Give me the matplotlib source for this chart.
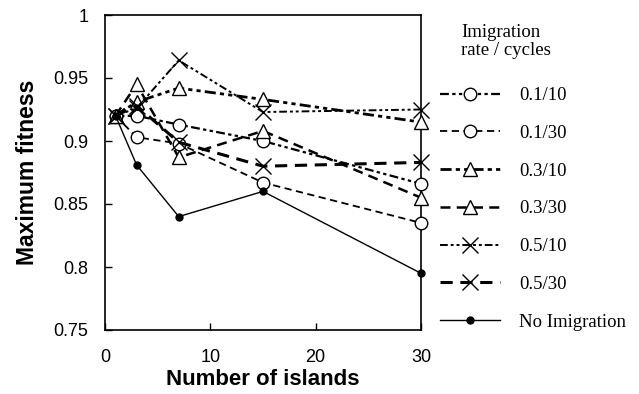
import matplotlib
matplotlib.use("Agg")
import matplotlib.pyplot as plt

islands = [1, 3, 7, 15, 30]
labels = ["0.1/10", "0.1/30", "0.3/10", "0.3/30", "0.5/10", "0.5/30", "No Imigration"]
s_01_10 = [0.920, 0.920, 0.913, 0.900, 0.866]
s_01_30 = [0.920, 0.903, 0.898, 0.867, 0.835]
s_03_10 = [0.920, 0.931, 0.942, 0.933, 0.915]
s_03_30 = [0.920, 0.945, 0.887, 0.908, 0.855]
s_05_10 = [0.920, 0.926, 0.964, 0.923, 0.925]
s_05_30 = [0.920, 0.928, 0.899, 0.880, 0.883]
s_none = [0.920, 0.881, 0.840, 0.860, 0.795]
series = [s_01_10, s_01_30, s_03_10, s_03_30, s_05_10, s_05_30, s_none]

dashdotdot = (0, (4, 1.5, 1.5, 1.5, 1.5, 1.5))
dashed = (0, (4, 2.5))
styles = [
    dict(ls=dashdotdot, lw=1.6, marker="o", ms=9),
    dict(ls=dashed, lw=1.3, marker="o", ms=9),
    dict(ls=dashdotdot, lw=2.0, marker="^", ms=10),
    dict(ls=dashed, lw=1.8, marker="^", ms=10),
    dict(ls=dashdotdot, lw=1.4, marker="x", ms=12),
    dict(ls=dashed, lw=2.2, marker="x", ms=12),
    dict(ls="-", lw=1.0, marker="o", ms=5),
]

fig = plt.figure(figsize=(6.39, 3.94), dpi=100)
ax = fig.add_axes([105 / 639, 64 / 394, 316 / 639, 315 / 394])

handles = []
for vals, st, lab in zip(series, styles, labels):
    filled = lab == "No Imigration"
    h, = ax.plot(islands, vals, color="black", linestyle=st["ls"], linewidth=st["lw"],
                 marker=st["marker"], markersize=st["ms"],
                 markerfacecolor="black" if filled else "white",
                 markeredgecolor="black", markeredgewidth=1.0, label=lab,
                 clip_on=False, zorder=3)
    handles.append(h)

ax.set_xlim(0, 30)
ax.set_ylim(0.75, 1.0)
ax.set_xticks([0, 10, 20, 30])
ax.set_yticks([0.75, 0.8, 0.85, 0.9, 0.95, 1.0])
ax.set_yticklabels(["0.75", "0.8", "0.85", "0.9", "0.95", "1"])
ax.tick_params(direction="in", length=5, width=1, labelsize=13, pad=12,
               top=False, right=False)
ax.tick_params(axis="x", pad=14)
for lab in ax.get_xticklabels() + ax.get_yticklabels():
    lab.set_fontfamily("Liberation Sans")
for sp in ax.spines.values():
    sp.set_linewidth(1.2)

ax.set_xlabel("Number of islands", fontsize=16, fontweight="bold",
              fontfamily="Liberation Sans", labelpad=2)
ax.set_ylabel("Maximum fitness", fontsize=16.5, fontweight="bold",
              fontfamily="Liberation Sans", labelpad=10)

fig.text(461 / 639, 1 - 24 / 394, "Imigration\nrate / cycles", fontsize=13.5,
         fontfamily="Liberation Serif", va="top", ha="left", linespacing=1.08)

leg = fig.legend(handles=handles, labels=labels, loc="upper left",
                 bbox_to_anchor=(440 / 639, 1 - 87 / 394), frameon=False,
                 prop=dict(family="Liberation Serif", size=13.5),
                 handlelength=3.2, handletextpad=1.0, labelspacing=1.1,
                 borderpad=0, borderaxespad=0)

fig.savefig("out.png", dpi=100)
